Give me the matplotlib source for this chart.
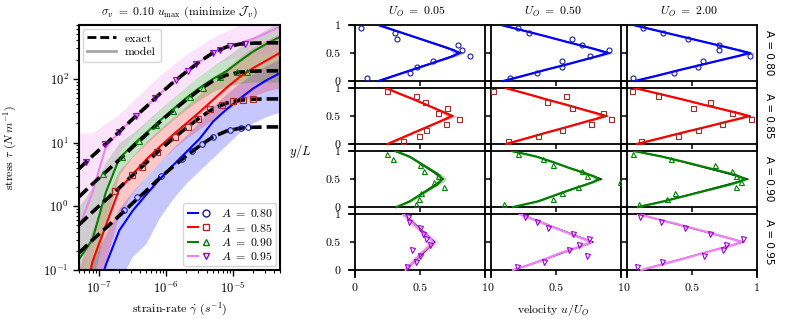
import matplotlib

matplotlib.use("Agg")
import matplotlib.pyplot as plt  # noqa: E402
import numpy as np  # noqa: E402
from matplotlib.legend_handler import HandlerTuple  # noqa: E402
from matplotlib.lines import Line2D  # noqa: E402

plt.rcParams["font.family"] = ["cmr10", "DejaVu Serif"]
plt.rcParams["mathtext.fontset"] = "cm"
plt.rcParams["axes.formatter.use_mathtext"] = True

# ---------------- left panel: flow curves (values in log10) ----------------
A_LABELS = ["0.80", "0.85", "0.90", "0.95"]
log_rate = [-7.3, -7.1, -6.9, -6.7, -6.5, -6.3, -6.1, -5.9,
            -5.7, -5.5, -5.3, -5.1, -4.9, -4.7, -4.5, -4.3]

log_exact_080 = [-0.73, -0.53, -0.34, -0.15, 0.05, 0.24, 0.44, 0.62,
                 0.79, 0.95, 1.09, 1.18, 1.225, 1.24, 1.245, 1.245]
log_exact_085 = [-0.29, -0.09, 0.10, 0.29, 0.49, 0.68, 0.88, 1.06,
                 1.23, 1.39, 1.53, 1.62, 1.665, 1.68, 1.685, 1.685]
log_exact_090 = [0.15, 0.35, 0.54, 0.73, 0.93, 1.12, 1.32, 1.50,
                 1.67, 1.83, 1.97, 2.06, 2.105, 2.12, 2.125, 2.125]
log_exact_095 = [0.59, 0.79, 0.98, 1.17, 1.37, 1.56, 1.76, 1.94,
                 2.11, 2.27, 2.41, 2.50, 2.545, 2.56, 2.565, 2.565]

log_model_080 = [-2.4, -1.6, -0.92, -0.38, -0.07, 0.18, 0.42, 0.64,
                 0.85, 1.06, 1.33, 1.52, 1.69, 1.85, 1.98, 2.09]
log_model_085 = [-1.8, -0.87, -0.30, 0.27, 0.50, 0.73, 0.93, 1.12,
                 1.30, 1.48, 1.67, 1.86, 2.03, 2.17, 2.29, 2.41]
log_model_090 = [-0.83, -0.52, 0.22, 0.75, 0.96, 1.15, 1.34, 1.52,
                 1.70, 1.86, 2.00, 2.12, 2.28, 2.43, 2.55, 2.66]
log_model_095 = [-0.33, 0.22, 0.93, 1.17, 1.37, 1.56, 1.76, 1.94,
                 2.11, 2.27, 2.41, 2.50, 2.56, 2.63, 2.72, 2.82]

log_lo_080 = [-3.0, -3.0, -2.5, -1.2, -0.8, -0.6, -0.2, 0.1,
              0.35, 0.55, 0.75, 0.95, 1.15, 1.30, 1.40, 1.47]
log_hi_080 = [-1.5, -0.9, -0.45, -0.05, 0.22, 0.45, 0.68, 0.90,
              1.10, 1.32, 1.55, 1.75, 1.92, 2.07, 2.20, 2.30]
log_lo_085 = [-2.5, -1.5, -0.9, -0.15, 0.2, 0.45, 0.68, 0.88,
              1.05, 1.20, 1.35, 1.50, 1.62, 1.72, 1.80, 1.85]
log_hi_085 = [-1.0, -0.4, 0.1, 0.55, 0.78, 1.0, 1.2, 1.38,
              1.56, 1.75, 1.95, 2.15, 2.33, 2.48, 2.60, 2.70]
log_lo_090 = [-1.5, -1.2, -0.3, 0.5, 0.78, 0.98, 1.17, 1.35,
              1.52, 1.67, 1.80, 1.88, 1.93, 1.95, 1.95, 1.95]
log_hi_090 = [0.0, 0.3, 0.7, 1.0, 1.15, 1.33, 1.52, 1.70,
              1.88, 2.05, 2.20, 2.35, 2.50, 2.65, 2.78, 2.90]
log_lo_095 = [-1.2, -0.6, 0.3, 0.85, 1.1, 1.3, 1.5, 1.7,
              1.88, 2.05, 2.20, 2.30, 2.35, 2.38, 2.40, 2.42]
log_hi_095 = [1.15, 1.15, 1.3, 1.45, 1.65, 1.85, 2.05, 2.22,
              2.38, 2.52, 2.65, 2.75, 2.85, 2.95, 3.05, 3.10]

mk_rate_080 = [-6.625, -6.43, -6.07, -5.77, -5.62, -5.47, -5.30, -5.05, -4.88, -4.78]
mk_stress_080 = [-0.06, 0.14, 0.48, 0.74, 0.86, 0.97, 1.09, 1.19, 1.23, 1.24]
mk_rate_085 = [-6.76, -6.505, -6.36, -6.13, -5.875, -5.68, -5.53, -5.34, -5.17, -5.0, -4.85, -4.7]
mk_stress_085 = [0.24, 0.485, 0.62, 0.85, 1.08, 1.25, 1.37, 1.52, 1.59, 1.645, 1.67, 1.68]
mk_rate_090 = [-6.94, -6.655, -6.4, -6.15, -5.9, -5.65, -5.45, -5.2, -4.95, -4.8]
mk_stress_090 = [0.50, 0.78, 1.03, 1.27, 1.50, 1.71, 1.86, 2.03, 2.10, 2.115]
mk_rate_095 = [-7.2, -6.91, -6.70, -6.445, -6.16, -5.86, -5.67, -5.55, -5.305, -5.2, -5.05, -4.83]
mk_stress_095 = [0.69, 0.97, 1.17, 1.42, 1.70, 1.98, 2.13, 2.23, 2.41, 2.46, 2.52, 2.55]

# ---------------- right panels: velocity profiles ----------------
U_LABELS = ["0.05", "0.50", "2.00"]
y_obs = [0.05, 0.15, 0.25, 0.35, 0.45, 0.55, 0.65, 0.75, 0.85, 0.95]
y_prof = [0.0, 0.1, 0.2, 0.3, 0.4, 0.45, 0.5, 0.55, 0.6, 0.7, 0.8, 0.9, 1.0]
y_exact = [0.0, 0.1, 0.5, 0.9, 1.0]

obs_080 = [[0.095, 0.42, 0.48, 0.60, 0.885, 0.82, 0.79, 0.32, 0.31, 0.05],
           [0.15, 0.356, 0.55, 0.545, 0.76, 0.91, 0.70, 0.62, 0.29, 0.205],
           [0.044, 0.365, 0.55, 0.587, 0.95, 0.71, 0.71, 0.47, 0.275, 0.12]]
obs_085 = [[0.37, 0.49, 0.55, 0.70, 0.80, 0.64, 0.71, 0.54, 0.467, 0.25],
           [0.13, 0.36, 0.55, 0.77, 0.92, 0.864, 0.625, 0.43, 0.575, 0.018],
           [0.108, 0.39, 0.55, 0.733, 0.955, 0.805, 0.51, 0.64, 0.236, 0.04]]
obs_090 = [[0.47, 0.49, 0.51, 0.687, 0.61, 0.64, 0.53, 0.50, 0.295, 0.244],
           [0.10, 0.48, 0.55, 0.67, 0.99, 0.74, 0.697, 0.48, 0.40, 0.21],
           [0.09, 0.305, 0.37, 0.84, 0.88, 0.84, 0.805, 0.68, 0.34, 0.05]]
obs_095 = [[0.40, 0.47, 0.50, 0.44, 0.58, 0.55, 0.52, 0.50, 0.415, 0.41],
           [0.20, 0.41, 0.74, 0.60, 0.68, 0.755, 0.63, 0.44, 0.356, 0.26],
           [0.075, 0.27, 0.59, 0.74, 0.76, 0.89, 0.64, 0.445, 0.26, 0.10]]

prof_080 = [[0.18, 0.31, 0.44, 0.57, 0.70, 0.76, 0.80, 0.76, 0.70, 0.57, 0.44, 0.31, 0.18],
            [0.095, 0.26, 0.42, 0.59, 0.75, 0.83, 0.90, 0.83, 0.75, 0.58, 0.42, 0.25, 0.08],
            [0.06, 0.24, 0.41, 0.59, 0.77, 0.86, 0.94, 0.86, 0.77, 0.59, 0.41, 0.23, 0.05]]
prof_085 = [[0.25, 0.35, 0.45, 0.55, 0.65, 0.70, 0.745, 0.70, 0.65, 0.55, 0.45, 0.34, 0.24],
            [0.115, 0.27, 0.42, 0.58, 0.73, 0.81, 0.875, 0.81, 0.73, 0.58, 0.42, 0.27, 0.113],
            [0.074, 0.25, 0.42, 0.60, 0.77, 0.86, 0.935, 0.86, 0.77, 0.59, 0.42, 0.24, 0.06]]
prof_090 = [[0.32, 0.42, 0.49, 0.56, 0.63, 0.655, 0.667, 0.655, 0.63, 0.56, 0.49, 0.42, 0.31],
            [0.17, 0.36, 0.48, 0.60, 0.73, 0.79, 0.83, 0.79, 0.73, 0.60, 0.48, 0.35, 0.16],
            [0.085, 0.28, 0.45, 0.62, 0.79, 0.86, 0.91, 0.86, 0.79, 0.62, 0.45, 0.27, 0.054]]
prof_095 = [[0.39, 0.43, 0.47, 0.51, 0.56, 0.585, 0.60, 0.585, 0.56, 0.51, 0.46, 0.42, 0.37],
            [0.17, 0.30, 0.42, 0.53, 0.66, 0.72, 0.77, 0.72, 0.66, 0.55, 0.44, 0.33, 0.22],
            [0.11, 0.27, 0.43, 0.58, 0.74, 0.82, 0.88, 0.82, 0.74, 0.58, 0.42, 0.25, 0.087]]

# exact solution: wall, near-wall, centre, near-wall, wall
exact_080 = [[0.18, 0.31, 0.815, 0.31, 0.18], [0.095, 0.26, 0.915, 0.25, 0.08],
             [0.06, 0.24, 0.955, 0.23, 0.05]]
exact_085 = [[0.25, 0.35, 0.755, 0.34, 0.24], [0.115, 0.27, 0.895, 0.27, 0.113],
             [0.074, 0.25, 0.95, 0.24, 0.06]]
exact_090 = [[0.32, 0.42, 0.68, 0.42, 0.31], [0.17, 0.36, 0.85, 0.35, 0.16],
             [0.085, 0.28, 0.93, 0.27, 0.054]]
exact_095 = [[0.39, 0.435, 0.615, 0.425, 0.37], [0.17, 0.305, 0.785, 0.335, 0.22],
             [0.11, 0.265, 0.895, 0.245, 0.087]]

band_080 = [0.03, 0.015, 0.01, 0.01, 0.015, 0.03, 0.045, 0.03, 0.015, 0.01, 0.01, 0.015, 0.03]
band_085 = [0.03, 0.015, 0.01, 0.01, 0.015, 0.03, 0.045, 0.03, 0.015, 0.01, 0.01, 0.015, 0.03]
band_090 = [0.025, 0.02, 0.015, 0.015, 0.02, 0.03, 0.035, 0.03, 0.02, 0.015, 0.015, 0.02, 0.025]
band_095 = [0.03, 0.03, 0.03, 0.03, 0.035, 0.04, 0.045, 0.04, 0.035, 0.03, 0.03, 0.03, 0.03]

LINE_COLORS = ["blue", "red", "green", "violet"]
MARK_COLORS = ["#1a1aa6", "#a52a2a", "green", "darkviolet"]
MARKERS = ["o", "s", "^", "v"]

W, H = 796, 319


def px_box(left, top, w, h):
    return [left / W, 1 - (top + h) / H, w / W, h / H]


fig = plt.figure(figsize=(W / 100, H / 100), dpi=100)

# ---------------- left panel ----------------
ax = fig.add_axes(px_box(79, 25, 201, 245))
rate = np.power(10.0, log_rate)
curves = [
    (log_exact_080, log_model_080, log_lo_080, log_hi_080, mk_rate_080, mk_stress_080),
    (log_exact_085, log_model_085, log_lo_085, log_hi_085, mk_rate_085, mk_stress_085),
    (log_exact_090, log_model_090, log_lo_090, log_hi_090, mk_rate_090, mk_stress_090),
    (log_exact_095, log_model_095, log_lo_095, log_hi_095, mk_rate_095, mk_stress_095),
]
for i, (ex, mo, lo, hi, mx, my) in enumerate(curves):
    c = LINE_COLORS[i]
    ax.fill_between(rate, np.power(10.0, lo), np.power(10.0, hi), color=c, alpha=0.22, lw=0, zorder=1)
    ax.plot(rate, np.power(10.0, mo), color=c, lw=1.5, zorder=2)
    ax.plot(rate, np.power(10.0, ex), color="k", lw=2.6, ls=(0, (3.2, 1.4)), zorder=3)
    ax.plot(np.power(10.0, mx), np.power(10.0, my), ls="none", marker=MARKERS[i], ms=4,
            mfc="none", mec=MARK_COLORS[i], mew=0.8, zorder=4)

ax.set_xscale("log")
ax.set_yscale("log")
ax.set_xlim(5e-8, 5e-5)
ax.set_ylim(0.1, 700)
for s in ax.spines.values():
    s.set_linewidth(1.5)
ax.tick_params(which="both", direction="out", labelsize=9)
ax.tick_params(which="major", length=4, width=1)
ax.tick_params(which="minor", length=2.2, width=0.8)
ax.set_xlabel(r"strain-rate $\dot{\gamma}$ ($s^{-1}$)", fontsize=8.5, labelpad=3)
ax.set_ylabel(r"stress $\tau$ ($N\,m^{-1}$)", fontsize=8.5)
ax.yaxis.set_label_coords(-0.3, 0.5)
ax.set_title(r"$\sigma_v\ =\ 0.10\ u_{\max}$ (minimize $\mathcal{J}_v$)", fontsize=8.5, pad=7)

leg1 = ax.legend(
    [Line2D([], [], color="k", lw=2, ls=(0, (3.2, 1.4))), Line2D([], [], color="gray", lw=2, alpha=0.7)],
    ["exact", "model"], loc="upper left", fontsize=8.5, handlelength=2.4,
    borderpad=0.4, labelspacing=0.3, borderaxespad=0.3,
)
ax.add_artist(leg1)
handles = []
for i in range(4):
    handles.append((Line2D([], [], color=LINE_COLORS[i], lw=1.5),
                    Line2D([], [], ls="none", marker=MARKERS[i], ms=5, mfc="none",
                           mec=MARK_COLORS[i], mew=1)))
ax.legend(handles, [rf"$A\ =\ {a}$" for a in A_LABELS], loc="lower right", fontsize=8.5,
          handler_map={tuple: HandlerTuple(ndivide=None, pad=0.2)}, handlelength=2.0,
          borderpad=0.35, labelspacing=0.2, borderaxespad=0.3)

# ---------------- right grid ----------------
obs_all = [obs_080, obs_085, obs_090, obs_095]
prof_all = [prof_080, prof_085, prof_090, prof_095]
exact_all = [exact_080, exact_085, exact_090, exact_095]
band_all = [band_080, band_085, band_090, band_095]

for r in range(4):
    for c in range(3):
        a = fig.add_axes(px_box(349 + 136 * c, 25 + 63 * r, 136, 63))
        a.set_facecolor("none")
        prof = np.array(prof_all[r][c])
        band = np.array(band_all[r])
        a.fill_betweenx(y_prof, prof - band, prof + band, color=LINE_COLORS[r], alpha=0.3, lw=0, zorder=1)
        a.plot(exact_all[r][c], y_exact, color="k", lw=0.8, zorder=2)
        a.plot(prof, y_prof, color=LINE_COLORS[r], lw=1.6, zorder=3)
        a.plot(obs_all[r][c], y_obs, ls="none", marker=MARKERS[r], ms=3.6, mfc="none",
               mec=MARK_COLORS[r], mew=0.8, zorder=4)
        a.set_xlim(-0.046, 1.0)
        a.set_ylim(-0.125, 1.0)
        a.spines["left"].set_position(("data", 0))
        a.spines["bottom"].set_position(("data", 0))
        for s in a.spines.values():
            s.set_linewidth(1.3)
        a.set_xticks([0, 0.5, 1])
        a.set_yticks([0, 0.5, 1])
        a.tick_params(direction="out", length=3.5, width=1.1, labelsize=8.5)
        a.tick_params(axis="x", pad=6)
        a.tick_params(axis="y", pad=7)
        if r == 3:
            a.set_xticklabels(["0", "0.5", "1"])
        else:
            a.set_xticklabels([])
        if c == 0:
            a.set_yticklabels(["0", "0.5", "1"])
        else:
            a.set_yticklabels([])
        if r == 0:
            a.set_title(rf"$U_O\ =\ {U_LABELS[c]}$", fontsize=8.5, pad=7)
    fig.text(769 / W, 1 - (53 + 63 * r) / H, f"A = {A_LABELS[r]}", rotation=270,
             ha="center", va="center", fontsize=7.5, family="DejaVu Sans")

fig.text(300 / W, 1 - 151 / H, r"$y/L$", ha="center", va="center", fontsize=9)
fig.text(553 / W, 1 - 310 / H, r"velocity $u/U_O$", ha="center", va="center", fontsize=8.5)

fig.savefig("out.png", dpi=100)
